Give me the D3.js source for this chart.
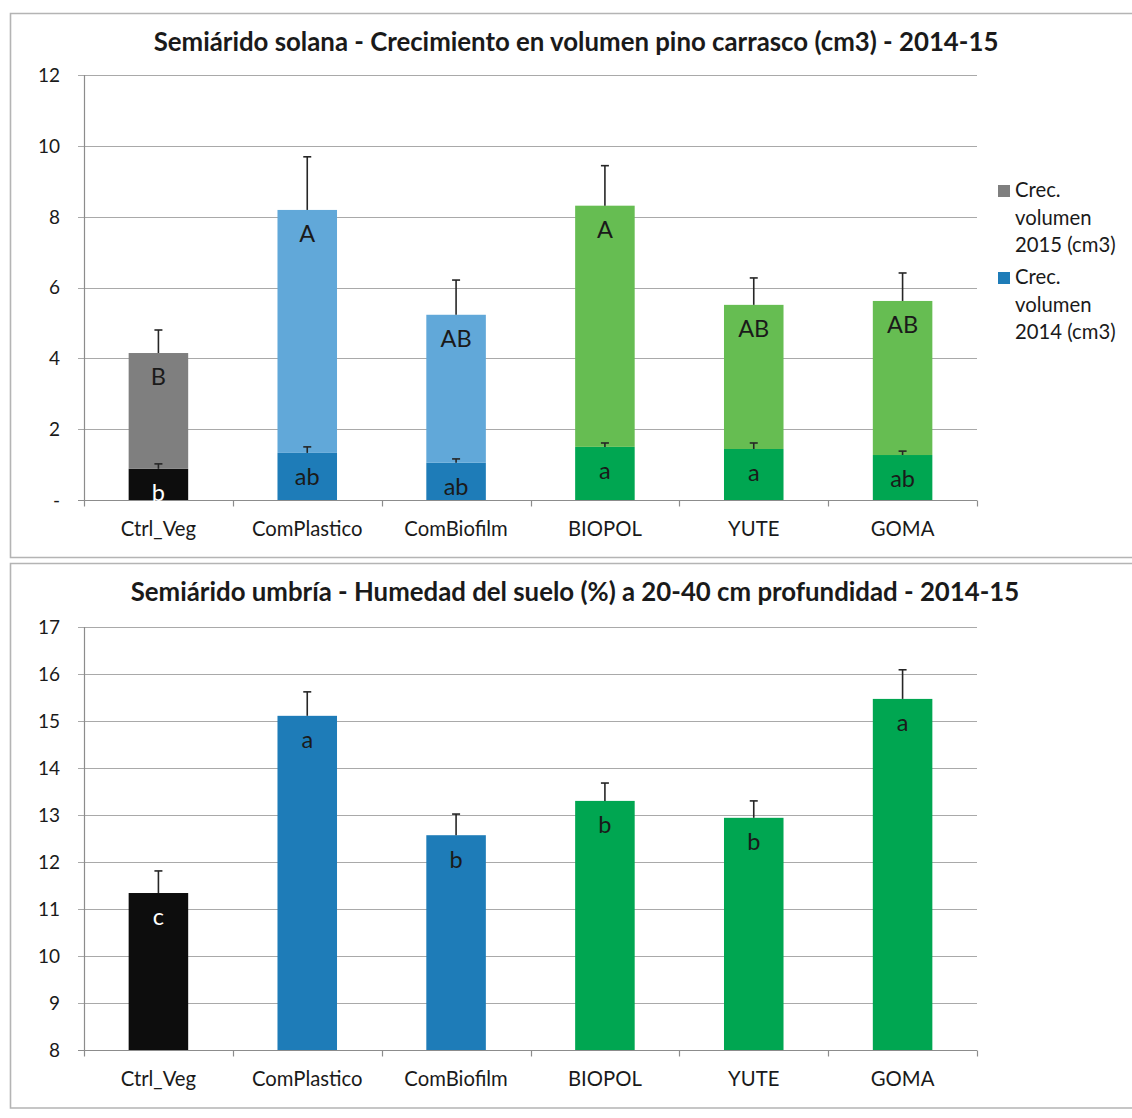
<!DOCTYPE html>
<html>
<head>
<meta charset="utf-8">
<script src="https://cdn.jsdelivr.net/npm/d3@7"></script>
<style>
  html, body { margin: 0; padding: 0; background: #fff; }
  svg { display: block; }
  text { font-family: Lato, "Open Sans", sans-serif; fill: #1a1a1a; }
</style>
</head>
<body>
<svg id="chart" width="1132" height="1118"></svg>
<script>
// Treatments shared by both panels
const categories = ["Ctrl_Veg", "ComPlastico", "ComBiofilm", "BIOPOL", "YUTE", "GOMA"];

// Panel 1: volume growth of Aleppo pine (cm3), stacked 2014 + 2015
const vol2014 = [0.88, 1.33, 1.05, 1.50, 1.44, 1.27];
const vol2015 = [3.27, 6.86, 4.18, 6.81, 4.07, 4.35];
const err2014 = [0.14, 0.17, 0.11, 0.11, 0.17, 0.11];
const err2015 = [0.65, 1.50, 0.98, 1.13, 0.76, 0.79];
const letters2014 = ["b", "ab", "ab", "a", "a", "ab"];
const letters2015 = ["B", "A", "AB", "A", "AB", "AB"];
const volTicks = [0, 2, 4, 6, 8, 10, 12];
const volTickLabels = ["-", "2", "4", "6", "8", "10", "12"];
const legendLabels = [["Crec.", "volumen", "2015 (cm3)"], ["Crec.", "volumen", "2014 (cm3)"]];

// Panel 2: soil moisture (%) at 20-40 cm depth
const humidity = [11.34, 15.11, 12.57, 13.30, 12.94, 15.47];
const humidityErr = [0.47, 0.51, 0.45, 0.38, 0.36, 0.62];
const humidityLetters = ["c", "a", "b", "b", "b", "a"];
const humTicks = [8, 9, 10, 11, 12, 13, 14, 15, 16, 17];

// Colours per treatment group
const groupOf = ["ctrl", "com", "com", "nat", "nat", "nat"];
const dark = { ctrl: "#0d0d0d", com: "#1e7cb8", nat: "#00a651" };
const light = { ctrl: "#7f7f7f", com: "#61a8d9", nat: "#66bd52" };
const labelFill = { ctrl: "#ffffff", com: "#1a1a1a", nat: "#1a1a1a" };

const svg = d3.select("#chart");
const gridColor = "#a9a9a9";
const axisColor = "#8c8c8c";
const frameColor = "#b4b4b4";

// Outer frames
svg.append("path")
  .attr("d", "M1132,13.5 H10.5 V557.5 H1132")
  .attr("fill", "none").attr("stroke", frameColor).attr("stroke-width", 1.6);
svg.append("path")
  .attr("d", "M1132,563.5 H10.5 V1108 H1132")
  .attr("fill", "none").attr("stroke", frameColor).attr("stroke-width", 1.6);

const plotLeft = 84, plotRight = 977;
const x = d3.scaleBand().domain(categories).range([plotLeft, plotRight]).paddingInner(0.6).paddingOuter(0.3);

function drawFrame(g, y, ticks, tickLabels) {
  // horizontal gridlines
  g.append("g").selectAll("line").data(ticks.slice(1)).join("line")
    .attr("x1", plotLeft - 6).attr("x2", plotRight)
    .attr("y1", d => Math.round(y(d)) + 0.5).attr("y2", d => Math.round(y(d)) + 0.5)
    .attr("stroke", gridColor).attr("stroke-width", 1.2);
  // y axis
  g.append("line")
    .attr("x1", plotLeft + 0.5).attr("x2", plotLeft + 0.5)
    .attr("y1", y(ticks[ticks.length - 1])).attr("y2", y(ticks[0]))
    .attr("stroke", axisColor).attr("stroke-width", 1.2);
  // y tick labels
  g.append("g").selectAll("text").data(ticks).join("text")
    .attr("x", 60).attr("y", d => y(d))
    .attr("dy", "0.36em").attr("text-anchor", "end")
    .style("font-size", "19px")
    .text((d, i) => tickLabels[i]);
  // x axis line and category separators
  const y0 = Math.round(y(ticks[0])) + 0.5;
  g.append("line")
    .attr("x1", plotLeft - 6).attr("x2", plotRight)
    .attr("y1", y0).attr("y2", y0)
    .attr("stroke", axisColor).attr("stroke-width", 1.2);
  const step = (plotRight - plotLeft) / categories.length;
  g.append("g").selectAll("line").data(d3.range(categories.length + 1)).join("line")
    .attr("x1", i => Math.round(plotLeft + i * step) + 0.5)
    .attr("x2", i => Math.round(plotLeft + i * step) + 0.5)
    .attr("y1", y0).attr("y2", y0 + 6)
    .attr("stroke", axisColor).attr("stroke-width", 1.2);
  // category labels
  g.append("g").selectAll("text").data(categories).join("text")
    .attr("x", d => x(d) + x.bandwidth() / 2).attr("y", y0 + 28)
    .attr("dy", "0.36em").attr("text-anchor", "middle")
    .style("font-size", "20.3px")
    .text(d => d);
}

function errorBar(g, cx, yBase, yTip) {
  g.append("line").attr("x1", cx).attr("x2", cx).attr("y1", yBase).attr("y2", yTip)
    .attr("stroke", "#262626").attr("stroke-width", 1.6);
  g.append("line").attr("x1", cx - 4).attr("x2", cx + 4).attr("y1", yTip).attr("y2", yTip)
    .attr("stroke", "#262626").attr("stroke-width", 1.6);
}

// ---------- Panel 1 ----------
const g1 = svg.append("g");
const y1 = d3.scaleLinear().domain([0, 12]).range([500, 75]);

g1.append("text")
  .attr("x", 576).attr("y", 42).attr("dy", "0.36em").attr("text-anchor", "middle")
  .style("font-size", "25.8px").style("font-weight", "bold")
  .text("Semiárido solana - Crecimiento en volumen pino carrasco (cm3) - 2014-15");

drawFrame(g1, y1, volTicks, volTickLabels);

const stackRows = categories.map((c, i) => ({ cat: c, i, v2014: vol2014[i], v2015: vol2015[i] }));
const stacked = d3.stack().keys(["v2014", "v2015"])(stackRows);
const bars1 = g1.append("g");
stacked.forEach((layer, li) => {
  bars1.append("g").selectAll("rect").data(layer).join("rect")
    .attr("x", d => x(d.data.cat))
    .attr("width", x.bandwidth())
    .attr("y", d => y1(d[1]))
    .attr("height", d => y1(d[0]) - y1(d[1]))
    .attr("fill", d => (li === 0 ? dark : light)[groupOf[d.data.i]]);
});
stacked.forEach((layer, li) => {
  const errs = li === 0 ? err2014 : err2015;
  layer.forEach(d => {
    const cx = x(d.data.cat) + x.bandwidth() / 2;
    errorBar(g1, cx, y1(d[1]), y1(d[1] + errs[d.data.i]));
  });
});
stacked.forEach((layer, li) => {
  const labs = li === 0 ? letters2014 : letters2015;
  g1.append("g").selectAll("text").data(layer).join("text")
    .attr("x", d => x(d.data.cat) + x.bandwidth() / 2)
    .attr("y", d => y1(d[1]) + 24)
    .attr("dy", "0.36em").attr("text-anchor", "middle")
    .style("font-size", "23.5px")
    .style("fill", d => li === 0 ? labelFill[groupOf[d.data.i]] : "#1a1a1a")
    .text(d => labs[d.data.i]);
});

// Legend
const legend = g1.append("g");
const legendColors = [light.ctrl, dark.com];
legendLabels.forEach((lines, k) => {
  const top = 185 + k * 87;
  legend.append("rect").attr("x", 998).attr("y", top).attr("width", 12).attr("height", 12)
    .attr("fill", legendColors[k]);
  lines.forEach((t, j) => {
    legend.append("text").attr("x", 1015).attr("y", top + 12 + j * 27.5)
      .style("font-size", "20.3px").text(t);
  });
});

// ---------- Panel 2 ----------
const g2 = svg.append("g");
const y2 = d3.scaleLinear().domain([8, 17]).range([1050, 627]);

g2.append("text")
  .attr("x", 575).attr("y", 592).attr("dy", "0.36em").attr("text-anchor", "middle")
  .style("font-size", "25.8px").style("font-weight", "bold")
  .text("Semiárido umbría - Humedad del suelo (%) a 20-40 cm profundidad - 2014-15");

drawFrame(g2, y2, humTicks, humTicks.map(String));

g2.append("g").selectAll("rect").data(categories).join("rect")
  .attr("x", d => x(d)).attr("width", x.bandwidth())
  .attr("y", (d, i) => y2(humidity[i]))
  .attr("height", (d, i) => y2(8) - y2(humidity[i]))
  .attr("fill", (d, i) => dark[groupOf[i]]);
categories.forEach((c, i) => {
  errorBar(g2, x(c) + x.bandwidth() / 2, y2(humidity[i]), y2(humidity[i] + humidityErr[i]));
});
g2.append("g").selectAll("text").data(categories).join("text")
  .attr("x", d => x(d) + x.bandwidth() / 2)
  .attr("y", (d, i) => y2(humidity[i]) + 24)
  .attr("dy", "0.36em").attr("text-anchor", "middle")
  .style("font-size", "23.5px")
  .style("fill", (d, i) => labelFill[groupOf[i]])
  .text((d, i) => humidityLetters[i]);
</script>
</body>
</html>
